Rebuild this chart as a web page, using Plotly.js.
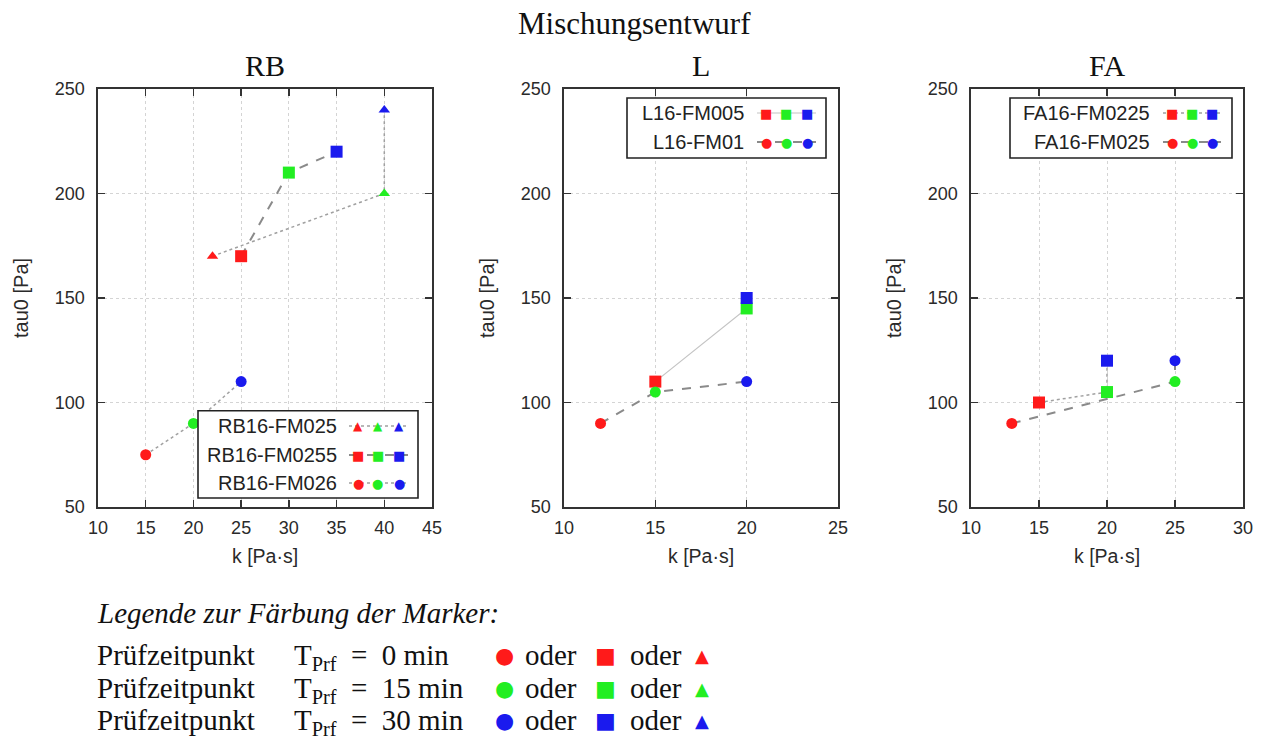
<!DOCTYPE html>
<html>
<head>
<meta charset="utf-8">
<script src="https://cdn.plot.ly/plotly-3.0.1.min.js"></script>
<style>html,body{margin:0;padding:0;background:#fff;}#chart{width:1266px;height:740px;}</style>
</head>
<body>
<div id="chart"></div>
<script>
// ---------- data ----------
const mainTitle = 'Mischungsentwurf';
const panelTitles = ['RB', 'L', 'FA'];
const xAxisTitle = 'k [Pa·s]';
const yAxisTitle = 'tau0 [Pa]';
const timeColors = ['#ff1a1a', '#22ee22', '#1a1aee'];

// RB panel
const rbTriName = 'RB16-FM025';  const rbTriX = [22, 40, 40]; const rbTriY = [170, 200, 240];
const rbSqName  = 'RB16-FM0255'; const rbSqX  = [25, 30, 35]; const rbSqY  = [170, 210, 220];
const rbCirName = 'RB16-FM026';  const rbCirX = [15, 20, 25]; const rbCirY = [75, 90, 110];
// L panel
const lSqName  = 'L16-FM005'; const lSqX  = [15, 20, 20]; const lSqY  = [110, 145, 150];
const lCirName = 'L16-FM01';  const lCirX = [12, 15, 20]; const lCirY = [90, 105, 110];
// FA panel
const faSqName  = 'FA16-FM0225'; const faSqX  = [15, 20, 20]; const faSqY  = [100, 105, 120];
const faCirName = 'FA16-FM025';  const faCirX = [13, 25, 25]; const faCirY = [90, 110, 120];

const xRanges = [[10, 45], [10, 25], [10, 30]];
const yRange = [50, 250];

// bottom legend texts
const colorLegendTitle = 'Legende zur Färbung der Marker:';
const colorLegendLabel = 'Prüfzeitpunkt';
const colorLegendTimes = ['0', '15', '30'];
const orWord = 'oder';

// ---------- layout helpers ----------
const W = 1266, H = 740;
const px = x => x / W;
const py = y => 1 - y / H;

const panelPx = [[98, 432], [564, 838], [971, 1243]];
const plotTop = 89, plotBottom = 507;

const symbolFor = {triangle: 'triangle-up', square: 'square', circle: 'circle'};
const glyphFor = {triangle: '▲', square: '■', circle: '●'};
const sizeFor = {triangle: 10, square: 12, circle: 11};

const lineStyles = {
  dot:   {color: '#a0a0a0', width: 1.5, dash: 'dot'},
  dash:  {color: '#8a8a8a', width: 2, dash: 'dash'},
  solid: {color: '#c4c4c4', width: 1.2, dash: 'solid'}
};

const seriesDefs = [
  {panel: 0, name: rbTriName, x: rbTriX, y: rbTriY, shape: 'triangle', line: 'dot'},
  {panel: 0, name: rbSqName,  x: rbSqX,  y: rbSqY,  shape: 'square',   line: 'dash'},
  {panel: 0, name: rbCirName, x: rbCirX, y: rbCirY, shape: 'circle',   line: 'dot'},
  {panel: 1, name: lSqName,   x: lSqX,   y: lSqY,   shape: 'square',   line: 'solid'},
  {panel: 1, name: lCirName,  x: lCirX,  y: lCirY,  shape: 'circle',   line: 'dash'},
  {panel: 2, name: faSqName,  x: faSqX,  y: faSqY,  shape: 'square',   line: 'dot'},
  {panel: 2, name: faCirName, x: faCirX, y: faCirY, shape: 'circle',   line: 'dash'}
];

const traces = seriesDefs.map(s => ({
  type: 'scatter',
  mode: 'lines+markers',
  name: s.name,
  x: s.x, y: s.y,
  xaxis: s.panel === 0 ? 'x' : 'x' + (s.panel + 1),
  yaxis: s.panel === 0 ? 'y' : 'y' + (s.panel + 1),
  line: lineStyles[s.line],
  marker: {symbol: symbolFor[s.shape], size: sizeFor[s.shape], color: timeColors, line: {width: 0}},
  showlegend: false,
  hoverinfo: 'x+y+name'
}));

const sans = 'Liberation Sans, Arial, sans-serif';
const serif = 'Liberation Serif, serif';

const axisBase = {
  showline: true, mirror: 'allticks', linecolor: '#333', linewidth: 1.6,
  ticks: 'inside', ticklen: 7, tickwidth: 1.4, tickcolor: '#333',
  showgrid: true, gridcolor: '#d4d4d4', griddash: 'dot', gridwidth: 1,
  zeroline: false, automargin: false, fixedrange: true,
  tickfont: {family: sans, size: 18, color: '#2a2a2a'}
};

const layout = {
  width: W, height: H,
  margin: {l: 0, r: 0, t: 0, b: 0},
  paper_bgcolor: '#fff', plot_bgcolor: '#fff',
  showlegend: false,
  annotations: [], shapes: []
};

panelPx.forEach((p, i) => {
  const xk = i === 0 ? 'xaxis' : 'xaxis' + (i + 1);
  const yk = i === 0 ? 'yaxis' : 'yaxis' + (i + 1);
  const ya = i === 0 ? 'y' : 'y' + (i + 1);
  const xa = i === 0 ? 'x' : 'x' + (i + 1);
  layout[xk] = Object.assign({}, axisBase, {
    domain: [px(p[0]), px(p[1])], range: xRanges[i], dtick: 5, tick0: 10,
    anchor: ya, ticklabelstandoff: 4
  });
  layout[yk] = Object.assign({}, axisBase, {
    domain: [py(plotBottom), py(plotTop)], range: yRange, dtick: 50, tick0: 50,
    anchor: xa, ticklabelstandoff: 8
  });
  // panel title
  layout.annotations.push({
    xref: 'paper', yref: 'paper', x: px((p[0] + p[1]) / 2), y: py(66),
    xanchor: 'center', yanchor: 'middle', showarrow: false, text: panelTitles[i],
    font: {family: serif, size: 30, color: '#111'}
  });
  // axis titles
  layout.annotations.push({
    xref: 'paper', yref: 'paper', x: px((p[0] + p[1]) / 2), y: py(556),
    xanchor: 'center', yanchor: 'middle', showarrow: false, text: xAxisTitle,
    font: {family: sans, size: 19.5, color: '#2a2a2a'}
  });
  layout.annotations.push({
    xref: 'paper', yref: 'paper', x: px(p[0] - 77), y: py((plotTop + plotBottom) / 2),
    xanchor: 'center', yanchor: 'middle', showarrow: false, text: yAxisTitle, textangle: -90,
    font: {family: sans, size: 20, color: '#2a2a2a'}
  });
});

// main title
layout.annotations.push({
  xref: 'paper', yref: 'paper', x: px(634), y: py(23), xanchor: 'center', yanchor: 'middle',
  showarrow: false, text: mainTitle, font: {family: serif, size: 31, color: '#111'}
});

// ---------- in-panel legend boxes ----------
const legendBoxes = [
  {box: [198, 418, 410.7, 498], rows: [426, 455, 483], textRight: 338, marks: [358, 378, 399],
   series: [0, 1, 2]},
  {box: [627, 826, 98, 158], rows: [113, 142], textRight: 745, marks: [766, 786, 807], series: [3, 4]},
  {box: [1010, 1232, 98, 158], rows: [113, 142], textRight: 1151, marks: [1172, 1192, 1212], series: [5, 6]}
];
legendBoxes.forEach(lb => {
  layout.shapes.push({
    type: 'rect', xref: 'paper', yref: 'paper', layer: 'above',
    x0: px(lb.box[0]), x1: px(lb.box[1]), y0: py(lb.box[3]), y1: py(lb.box[2]),
    fillcolor: '#fff', line: {color: '#222', width: 1.6}
  });
  lb.series.forEach((si, r) => {
    const s = seriesDefs[si];
    const yy = lb.rows[r];
    layout.annotations.push({
      xref: 'paper', yref: 'paper', x: px(lb.textRight + 1), y: py(yy), xanchor: 'right', yanchor: 'middle',
      showarrow: false, text: s.name,
      font: {family: sans, size: 20, color: '#222'}
    });
    const ls = lineStyles[s.line];
    layout.shapes.push({
      type: 'line', xref: 'paper', yref: 'paper', layer: 'above',
      x0: px(lb.marks[0] - 9), x1: px(lb.marks[2] + 9), y0: py(yy), y1: py(yy),
      line: {color: ls.color, width: ls.width, dash: ls.dash}
    });
    lb.marks.forEach((mx, k) => {
      layout.annotations.push({
        xref: 'paper', yref: 'paper', x: px(mx), y: py(yy), xanchor: 'center', yanchor: 'middle',
        showarrow: false, text: glyphFor[s.shape],
        font: {family: 'DejaVu Sans, sans-serif', size: s.shape === 'triangle' ? 12 : 13, color: timeColors[k]}
      });
    });
  });
});

// ---------- bottom colour legend ----------
layout.annotations.push({
  xref: 'paper', yref: 'paper', x: px(95), y: py(613), xanchor: 'left', yanchor: 'middle',
  showarrow: false, text: '<i>' + colorLegendTitle + '</i>', font: {family: serif, size: 29, color: '#111'}
});
const rowY = [655, 688, 720];
colorLegendTimes.forEach((t, i) => {
  const yy = rowY[i];
  layout.annotations.push({
    xref: 'paper', yref: 'paper', x: px(95), y: py(yy), xanchor: 'left', yanchor: 'middle',
    showarrow: false, text: colorLegendLabel, font: {family: serif, size: 29, color: '#111'}
  });
  layout.annotations.push({
    xref: 'paper', yref: 'paper', x: px(292), y: py(yy), xanchor: 'left', yanchor: 'middle', yshift: -2,
    showarrow: false, text: 'T<sub>Prf</sub>\u2002=\u2002' + t + ' min', font: {family: serif, size: 29, color: '#111'}
  });
  const glyphs = [['circle', 505], ['square', 605], ['triangle', 702]];
  glyphs.forEach(([g, gx]) => {
    layout.annotations.push({
      xref: 'paper', yref: 'paper', x: px(gx), y: py(yy), xanchor: 'center', yanchor: 'middle',
      showarrow: false, text: glyphFor[g],
      font: {family: 'DejaVu Sans, sans-serif', size: g === 'triangle' ? 18 : 22, color: timeColors[i]}
    });
  });
  [523, 628].forEach(ox => {
    layout.annotations.push({
      xref: 'paper', yref: 'paper', x: px(ox), y: py(yy), xanchor: 'left', yanchor: 'middle',
      showarrow: false, text: orWord, font: {family: serif, size: 29, color: '#111'}
    });
  });
});

Plotly.newPlot('chart', traces, layout, {staticPlot: true, displayModeBar: false});
</script>
</body>
</html>
